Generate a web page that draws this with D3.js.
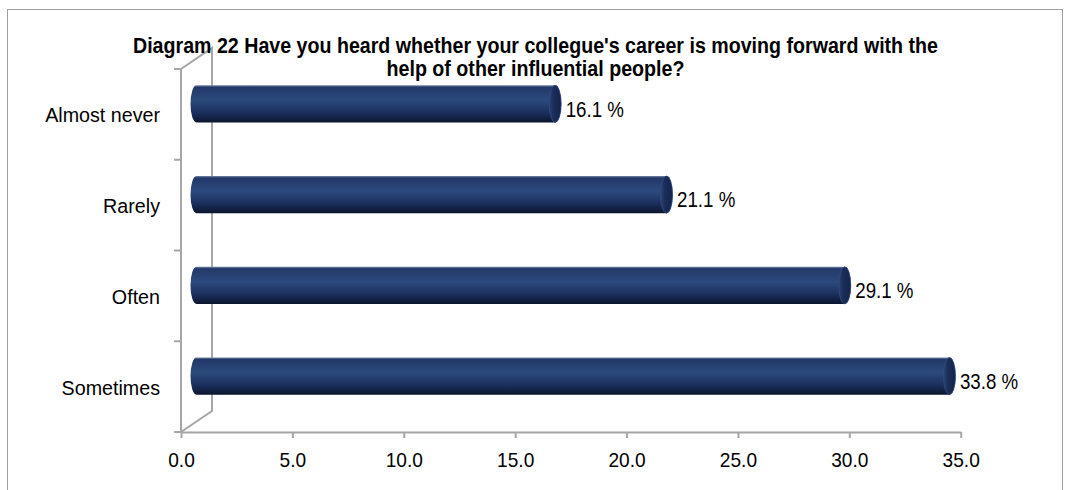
<!DOCTYPE html>
<html>
<head>
<meta charset="utf-8">
<script src="https://cdn.jsdelivr.net/npm/d3@7"></script>
<style>
  html, body { margin: 0; padding: 0; background: #ffffff; }
  svg { display: block; }
  text { font-family: "Liberation Sans", Arial, sans-serif; fill: #000; }
</style>
</head>
<body>
<svg id="chart" width="1065" height="490"></svg>
<script>
// Survey answers, top to bottom
const categories = ["Almost never", "Rarely", "Often", "Sometimes"];
const shares = [16.1, 21.1, 29.1, 33.8];
const xTicks = [0, 5, 10, 15, 20, 25, 30, 35];
const titleLines = [
  "Diagram 22 Have you heard whether your collegue's career is moving forward with the",
  "help of other influential people?"
];

(function draw() {
  const svg = d3.select("#chart");
  const H = 490;

  // Plot frame
  const plotLeft = 181, plotRight = 960.7, plotTop = 69, plotBottom = 432;
  const depthX = 31, depthY = 21;   // 3-D wall offset
  const axisColor = "#a6a6a6";

  const x = d3.scaleLinear().domain([0, 35]).range([plotLeft, plotRight]);
  const y = d3.scaleBand().domain(categories).range([plotTop, plotBottom]).padding(0);

  // Squeeze a text element horizontally to a narrower set width
  const narrow = (sel, factor) => sel.each(function () {
    const len = this.getComputedTextLength();
    d3.select(this).attr("textLength", len * factor).attr("lengthAdjust", "spacingAndGlyphs");
  });

  // Outer chart border
  svg.append("rect")
    .attr("x", 7.5).attr("y", 9.5)
    .attr("width", 1055).attr("height", H)
    .attr("fill", "none").attr("stroke", "#a0a0a0").attr("stroke-width", 1);

  // Gradients for the cylinders
  const defs = svg.append("defs");
  const body = defs.append("linearGradient").attr("id", "barBody")
    .attr("x1", 0).attr("y1", 0).attr("x2", 0).attr("y2", 1);
  [["0%", "#7383a3"], ["5%", "#223868"], ["40%", "#2c4a7d"], ["72%", "#1c3160"], ["100%", "#0b152e"]]
    .forEach(([o, c]) => body.append("stop").attr("offset", o).attr("stop-color", c));
  const cap = defs.append("linearGradient").attr("id", "barCap")
    .attr("x1", 0).attr("y1", 0).attr("x2", 1).attr("y2", 0);
  [["0%", "#2a4478"], ["35%", "#1b2d58"], ["100%", "#14244a"]]
    .forEach(([o, c]) => cap.append("stop").attr("offset", o).attr("stop-color", c));

  // Side wall (value axis frame)
  const wall = svg.append("g").attr("fill", "none").attr("stroke", axisColor).attr("stroke-width", 2);
  wall.append("path").attr("d",
    `M${plotLeft},${plotBottom}L${plotLeft},${plotTop}L${plotLeft + depthX},${plotTop - depthY}` +
    `L${plotLeft + depthX},${plotBottom - depthY}L${plotLeft},${plotBottom}`);

  // Category axis ticks at band boundaries
  const bounds = categories.map(c => y(c)).concat([plotBottom]);
  wall.selectAll("line.ytick").data(bounds).join("line")
    .attr("class", "ytick")
    .attr("x1", plotLeft - 7).attr("x2", plotLeft)
    .attr("y1", d => d).attr("y2", d => d);

  // Value axis
  const xAxis = d3.axisBottom(x)
    .tickValues(xTicks)
    .tickFormat(d3.format(".1f"))
    .tickSizeInner(6).tickSizeOuter(0).tickPadding(14);
  const gx = svg.append("g").attr("transform", `translate(0,${plotBottom})`).call(xAxis);
  gx.select(".domain").attr("stroke", axisColor).attr("stroke-width", 2);
  gx.selectAll(".tick line").attr("stroke", axisColor).attr("stroke-width", 2);
  gx.selectAll(".tick text")
    .attr("font-size", 21).attr("font-family", "Liberation Sans, Arial, sans-serif")
    .attr("fill", "#000").attr("dy", "0.71em")
    .call(narrow, 0.91);

  // Category labels
  svg.append("g").selectAll("text").data(categories).join("text")
    .attr("x", 160)
    .attr("y", d => y(d) + y.bandwidth() / 2 + 8)
    .attr("text-anchor", "end")
    .attr("font-size", 20.5)
    .text(d => d)
    .call(narrow, 0.96);

  // Cylinders
  const ry = y.bandwidth() * 0.204, rx = 6;
  const bars = svg.append("g");
  categories.forEach((c, i) => {
    const v = shares[i];
    const cy = y(c) + y.bandwidth() / 2 - depthY / 2;
    const x0 = x(0) + depthX / 2, x1 = x(v) + depthX / 2;
    const t = cy - ry, b = cy + ry;
    bars.append("path")
      .attr("d", `M${x0},${t}L${x1},${t}A${rx},${ry} 0 0 1 ${x1},${b}L${x0},${b}A${rx},${ry} 0 0 1 ${x0},${t}Z`)
      .attr("fill", "url(#barBody)");
    bars.append("ellipse")
      .attr("cx", x1).attr("cy", cy).attr("rx", rx).attr("ry", ry)
      .attr("fill", "url(#barCap)")
      .attr("stroke", "#31497d").attr("stroke-width", 0.8);
    // Value label
    bars.append("text")
      .attr("x", x1 + rx + 4.5)
      .attr("y", cy + 12.8)
      .attr("font-size", 21.5)
      .text(d3.format(".1f")(v) + " %")
      .call(narrow, 0.87);
  });

  // Title
  const titleWidths = [805, 298];
  const titleBase = [52.5, 76];
  titleLines.forEach((line, i) => {
    svg.append("text")
      .attr("x", 535.5).attr("y", titleBase[i])
      .attr("text-anchor", "middle")
      .attr("font-size", 21.5).attr("font-weight", "bold")
      .attr("textLength", titleWidths[i]).attr("lengthAdjust", "spacingAndGlyphs")
      .text(line);
  });
})();
</script>
</body>
</html>
